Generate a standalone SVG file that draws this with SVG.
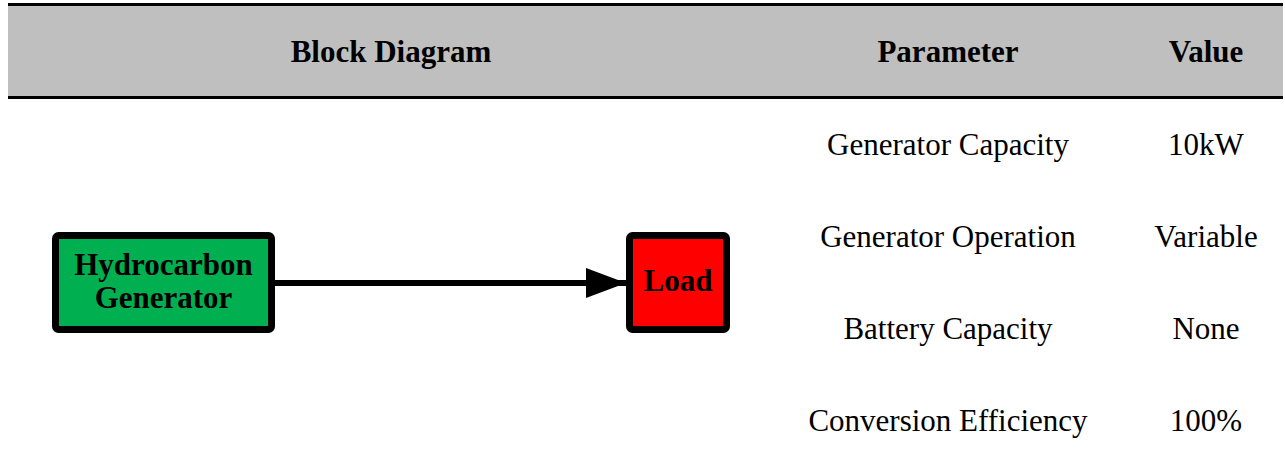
<svg xmlns="http://www.w3.org/2000/svg" width="1285" height="467" viewBox="0 0 1285 467">
<defs>
<style>
.hdr{font-family:"Liberation Serif","Times New Roman",serif;font-weight:bold;font-size:31px;fill:#000;text-anchor:middle}
.cell{font-family:"Liberation Serif","Times New Roman",serif;font-size:31px;fill:#000;text-anchor:middle}
.lbl{font-family:"Liberation Serif","Times New Roman",serif;font-weight:bold;font-size:31px;fill:#000;text-anchor:middle}
.box{stroke:#000;stroke-width:7}
</style>
<marker id="arr" markerUnits="userSpaceOnUse" markerWidth="40" markerHeight="30" refX="40" refY="15" orient="auto">
<path d="M0,0 L40,15 L0,30 Z" fill="#000"/>
</marker>
</defs>
<rect width="1285" height="467" fill="#fff"/>
<g id="header">
<rect x="8" y="5" width="1275" height="92" fill="#BFBFBF"/>
<line x1="8" y1="4.5" x2="1283" y2="4.5" stroke="#000" stroke-width="3"/>
<line x1="8" y1="97.5" x2="1283" y2="97.5" stroke="#000" stroke-width="3"/>
<text class="hdr" x="391" y="62">Block Diagram</text>
<text class="hdr" x="948" y="62">Parameter</text>
<text class="hdr" x="1206" y="62">Value</text>
</g>
<g id="table">
<text class="cell" x="948" y="155">Generator Capacity</text>
<text class="cell" x="1206" y="155">10kW</text>
<text class="cell" x="948" y="247">Generator Operation</text>
<text class="cell" x="1206" y="247">Variable</text>
<text class="cell" x="948" y="339">Battery Capacity</text>
<text class="cell" x="1206" y="339">None</text>
<text class="cell" x="948" y="431">Conversion Efficiency</text>
<text class="cell" x="1206" y="431">100%</text>
</g>
<g id="connectors">
<line x1="275" y1="283" x2="626" y2="283" stroke="#000" stroke-width="6" marker-end="url(#arr)"/>
</g>
<g id="generator">
<rect class="box" x="55.5" y="235.5" width="216" height="94" rx="3" fill="#00B050"/>
<text class="lbl" x="163.5" y="275">Hydrocarbon</text>
<text class="lbl" x="163.5" y="308">Generator</text>
</g>
<g id="load">
<rect class="box" x="629.5" y="235.5" width="97" height="94" rx="3" fill="#FF0000"/>
<text class="lbl" x="678" y="291">Load</text>
</g>
</svg>
